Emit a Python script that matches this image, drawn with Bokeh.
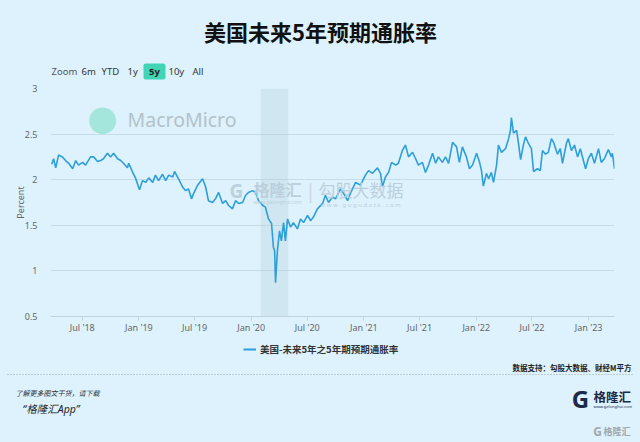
import pandas as pd
from bokeh.plotting import figure
from bokeh.layouts import column
from bokeh.models import (Range1d, FixedTicker, DatetimeTickFormatter, CustomJSTickFormatter,
                          BoxAnnotation, Label, Legend, LegendItem, Arrow, ColumnDataSource)
from bokeh.embed import file_html
from bokeh.resources import INLINE

# ---------------- data ----------------
title_text = "美国未来5年预期通胀率"
series_name = "美国-未来5年之5年期预期通胀率"
source_note = "数据支持：勾股大数据、财经M平方"
range_buttons = ["Zoom", "6m", "YTD", "1y", "5y", "10y", "All"]
selected_button = "5y"
y_axis_title = "Percent"

dates = [
    "2018-03-24", "2018-03-30", "2018-04-06", "2018-04-15", "2018-04-28", "2018-05-08", "2018-05-18",
    "2018-05-31", "2018-06-10", "2018-06-19", "2018-07-02", "2018-07-12", "2018-07-28", "2018-08-07",
    "2018-08-20", "2018-08-30", "2018-09-08", "2018-09-21", "2018-10-01", "2018-10-11", "2018-10-24",
    "2018-11-03", "2018-11-12", "2018-11-25", "2018-11-29", "2018-12-12", "2018-12-21", "2019-01-03",
    "2019-01-13", "2019-01-23", "2019-02-02", "2019-02-15", "2019-02-24", "2019-03-06", "2019-03-19",
    "2019-03-29", "2019-04-08", "2019-04-21", "2019-04-27", "2019-05-10", "2019-05-23", "2019-06-02",
    "2019-06-11", "2019-06-21", "2019-06-28", "2019-07-11", "2019-07-27", "2019-08-06", "2019-08-15",
    "2019-08-28", "2019-09-07", "2019-09-17", "2019-09-30", "2019-10-10", "2019-10-19", "2019-11-01",
    "2019-11-11", "2019-11-21", "2019-12-04", "2019-12-14", "2019-12-23", "2020-01-05", "2020-01-15",
    "2020-01-25", "2020-02-07", "2020-02-16", "2020-02-26", "2020-03-07", "2020-03-13", "2020-03-17",
    "2020-03-20", "2020-03-26", "2020-04-02", "2020-04-08", "2020-04-15", "2020-04-21", "2020-04-28",
    "2020-05-08", "2020-05-17", "2020-05-30", "2020-06-09", "2020-06-19", "2020-07-02", "2020-07-12",
    "2020-07-21", "2020-08-03", "2020-08-20", "2020-08-29", "2020-09-08", "2020-09-21", "2020-10-01",
    "2020-10-17", "2020-10-27", "2020-11-09", "2020-11-18", "2020-12-05", "2020-12-21", "2021-01-06",
    "2021-01-16", "2021-01-29", "2021-02-14", "2021-02-24", "2021-03-02", "2021-03-12", "2021-03-22",
    "2021-04-01", "2021-04-14", "2021-04-23", "2021-05-06", "2021-05-16", "2021-05-26", "2021-06-08",
    "2021-06-18", "2021-06-27", "2021-07-10", "2021-07-20", "2021-07-30", "2021-08-12", "2021-08-22",
    "2021-08-31", "2021-09-13", "2021-09-23", "2021-10-03", "2021-10-16", "2021-10-29", "2021-11-07",
    "2021-11-17", "2021-11-30", "2021-12-10", "2021-12-20", "2022-01-02", "2022-01-11", "2022-01-18",
    "2022-01-24", "2022-02-03", "2022-02-10", "2022-02-19", "2022-02-26", "2022-03-08", "2022-03-14",
    "2022-03-24", "2022-04-06", "2022-04-16", "2022-04-22", "2022-04-25", "2022-05-02", "2022-05-12",
    "2022-05-18", "2022-05-25", "2022-06-03", "2022-06-10", "2022-06-19", "2022-06-29", "2022-07-06",
    "2022-07-19", "2022-07-28", "2022-08-04", "2022-08-14", "2022-08-23", "2022-09-02", "2022-09-09",
    "2022-09-22", "2022-10-01", "2022-10-08", "2022-10-21", "2022-10-27", "2022-11-06", "2022-11-16",
    "2022-11-26", "2022-12-05", "2022-12-15", "2022-12-22", "2022-12-31", "2023-01-10", "2023-01-20",
    "2023-02-02", "2023-02-11", "2023-02-21", "2023-03-06", "2023-03-16", "2023-03-19", "2023-03-23",
    "2023-03-26",
]
values = [
    2.17, 2.23, 2.13, 2.27, 2.25, 2.21, 2.18,
    2.12, 2.21, 2.16, 2.19, 2.16, 2.25, 2.25,
    2.20, 2.21, 2.23, 2.29, 2.25, 2.29, 2.23,
    2.21, 2.18, 2.13, 2.18, 2.08, 2.02, 1.89,
    1.99, 1.97, 2.02, 1.97, 2.05, 1.99, 2.06,
    1.99, 2.05, 2.03, 2.09, 2.01, 1.92, 1.88,
    1.90, 1.79, 1.85, 1.94, 2.01, 1.92, 1.77,
    1.75, 1.79, 1.86, 1.74, 1.77, 1.72, 1.68,
    1.77, 1.74, 1.75, 1.83, 1.86, 1.88, 1.86,
    1.77, 1.72, 1.70, 1.57, 1.52, 1.26, 1.22,
    0.87, 1.22, 1.44, 1.33, 1.53, 1.33, 1.57,
    1.48, 1.53, 1.46, 1.57, 1.53, 1.61, 1.55,
    1.59, 1.68, 1.74, 1.83, 1.75, 1.81, 1.79,
    1.90, 1.85, 1.77, 1.85, 1.97, 1.94, 2.05,
    2.10, 2.07, 2.13, 2.07, 1.92, 2.03, 2.08,
    2.19, 2.16, 2.18, 2.32, 2.38, 2.25, 2.30,
    2.23, 2.16, 2.19, 2.08, 2.16, 2.29, 2.18,
    2.25, 2.19, 2.25, 2.18, 2.41, 2.36, 2.19,
    2.36, 2.25, 2.12, 2.16, 2.29, 2.20, 2.10,
    1.93, 2.07, 2.01, 2.08, 1.97, 2.16, 2.38,
    2.30, 2.34, 2.45, 2.54, 2.68, 2.51, 2.54,
    2.40, 2.22, 2.38, 2.47, 2.40, 2.34, 2.09,
    2.12, 2.10, 2.32, 2.28, 2.30, 2.45, 2.41,
    2.28, 2.34, 2.18, 2.40, 2.45, 2.32, 2.38,
    2.25, 2.34, 2.21, 2.12, 2.23, 2.29, 2.18,
    2.34, 2.19, 2.23, 2.33, 2.25, 2.29, 2.20,
    2.12,
]
x_tick_dates = ["2018-07-01", "2019-01-01", "2019-07-01", "2020-01-01", "2020-07-01",
                "2021-01-01", "2021-07-01", "2022-01-01", "2022-07-01", "2023-01-01"]
y_ticks = [0.5, 1, 1.5, 2, 2.5, 3]
recession_start, recession_end = "2020-02-01", "2020-04-30"
x_start, x_end = "2018-03-20", "2023-03-26"

# ---------------- style ----------------
BG = "#ddf2fc"
LINE = "#2d9fd9"
GRID = "#c6dce6"
CJK = "Noto Sans CJK SC"
LAT = "Noto Sans"
MIX = "'Noto Sans', 'Noto Sans CJK SC'"
W = 640
HEAD_H, MAIN_H, FOOT_H = 80, 262, 100


def ms(d):
    return pd.Timestamp(d).value // 10**6


def panel(h):
    f = figure(width=W, height=h, x_range=Range1d(0, W), y_range=Range1d(h, 0),
               x_axis_location=None, y_axis_location=None,
               output_backend="svg", toolbar_location=None,
               background_fill_color=BG, border_fill_color=BG, outline_line_color=None,
               min_border=0, frame_align=False)
    f.xgrid.visible = False
    f.ygrid.visible = False
    return f


def lab(fig, text, X, Y, size, color="#333333", font=CJK, style="normal", align="left", **kw):
    fig.add_layout(Label(x=X, y=Y, text=text, text_font=font, text_font_size=size,
                         text_color=color, text_font_style=style, text_align=align,
                         text_baseline="middle", **kw))


# ================= header =================
head = panel(HEAD_H)
lab(head, title_text, 320, 30, "22px", color="#111111", style="bold", align="center")
head.add_layout(BoxAnnotation(left=143, right=165, top=63, bottom=79, fill_color="#42d5b5",
                              fill_alpha=1, line_color=None, border_radius=2))
btn_x = [51, 81, 101, 127, 154, 168, 192]
for t, bx in zip(range_buttons, btn_x):
    if t == selected_button:
        lab(head, t, bx, 71, "9.5px", color="#222222", font=LAT, style="bold", align="center")
    else:
        lab(head, t, bx, 71, "9.5px", color="#555555" if t == "Zoom" else "#333333", font=LAT)

# ================= main chart =================
src = ColumnDataSource(dict(x=pd.to_datetime(dates), y=values))

p = figure(width=W, height=MAIN_H, x_axis_type="datetime",
           x_range=Range1d(pd.Timestamp(x_start), pd.Timestamp(x_end)),
           y_range=Range1d(0.5, 3),
           output_backend="svg", toolbar_location=None,
           background_fill_color=BG, border_fill_color=BG, outline_line_color=None,
           min_border_left=50, min_border_right=26, min_border_top=8, min_border_bottom=26,
           frame_align=False)

p.add_layout(BoxAnnotation(left=ms(recession_start), right=ms(recession_end),
                           fill_color="#b2ccd9", fill_alpha=0.3, line_color=None, level="underlay"))

r = p.line("x", "y", source=src, line_color=LINE, line_width=1.6)

p.xgrid.visible = False
p.ygrid.grid_line_color = GRID
p.ygrid.grid_line_width = 1

xa = p.xaxis[0]
xa.ticker = FixedTicker(ticks=[ms(d) for d in x_tick_dates])
xa.formatter = DatetimeTickFormatter(days="%b '%y", months="%b '%y", years="%b '%y")
xa.axis_line_color = "#bfd3de"
xa.major_tick_line_color = "#bfd3de"
xa.major_tick_out = 4
xa.major_tick_in = 0
xa.minor_tick_line_color = None
xa.major_label_standoff = 0
xa.major_label_text_font = LAT
xa.major_label_text_font_size = "9px"
xa.major_label_text_color = "#666666"

ya = p.yaxis[0]
ya.ticker = FixedTicker(ticks=y_ticks)
ya.formatter = CustomJSTickFormatter(code="return tick.toString()")
ya.axis_line_color = None
ya.major_tick_line_color = None
ya.minor_tick_line_color = None
ya.major_label_standoff = 7
ya.major_label_text_font = LAT
ya.major_label_text_font_size = "9px"
ya.major_label_text_color = "#666666"
ya.axis_label = y_axis_title
ya.axis_label_text_font = LAT
ya.axis_label_text_font_size = "9px"
ya.axis_label_text_font_style = "normal"
ya.axis_label_text_color = "#666666"
ya.axis_label_standoff = -5

# watermarks inside the frame (frame-relative screen units)
FL, FB = 50, 316


def wm(text, X, Y, size, color, font=CJK, style="normal", align="left"):
    p.add_layout(Label(x=X - FL, y=FB - Y, x_units="screen", y_units="screen", text=text,
                       text_font=font, text_font_size=size, text_color=color,
                       text_font_style=style, text_align=align, text_baseline="middle"))


wm("●", 102, 117, "35px", "#a4e6dc", font="DejaVu Sans", align="center")
wm("MacroMicro", 127, 119, "19.5px", "#b4c2c9", font=LAT)
wm("G", 236, 190, "19px", "#bccfdd", font=LAT, style="bold", align="center")
wm("格隆汇", 253, 188, "16px", "#bccfdd", style="bold")
wm("www.gelonghui.com", 253, 201, "5px", "#bccfdd", font=LAT)
wm("|", 310, 190, "20px", "#c8d8e2", font=LAT, align="center")
wm("勾股大数据", 318, 189, "17px", "#bccfdd")
wm("w w w . g o g u d a t a . c o m", 320, 204, "6px", "#bccfdd", font=LAT)

# ================= footer =================
foot = panel(FOOT_H)
OY = HEAD_H + MAIN_H  # reference y of the footer's top edge
legend_r = foot.line(x=[float("nan")], y=[float("nan")], line_color=LINE, line_width=2)
foot.add_layout(Legend(items=[LegendItem(label=series_name, renderers=[legend_r])],
                       location=(243, FOOT_H - (350 - OY) - 6), orientation="horizontal",
                       glyph_width=13, glyph_height=12, label_height=12, label_standoff=4,
                       padding=0, margin=0, border_line_color=None, background_fill_alpha=0,
                       label_text_font=CJK, label_text_font_size="9.5px",
                       label_text_font_style="bold", label_text_color="#333333"))
lab(foot, source_note, 631, 367 - OY, "7.5px", color="#222222", style="bold", align="right")
foot.add_layout(Arrow(x_start=7, y_start=374 - OY, x_end=632, y_end=374 - OY, start=None, end=None,
                      line_color="#9aa5ab", line_width=1, line_dash="1 2"))
lab(foot, "了解更多图文干货，请下载", 15, 392 - OY, "7px", color="#333333", style="italic")
lab(foot, "“格隆汇App”", 22, 408 - OY, "10.5px", color="#222222", font=MIX, style="italic")
lab(foot, "G", 580, 398 - OY, "24px", color="#1b2a4a", font=LAT, style="bold", align="center")
lab(foot, "格隆汇", 593, 396 - OY, "12.5px", color="#1b2a4a", style="bold")
lab(foot, "www.gelonghui.com", 593, 406 - OY, "4px", color="#1b2a4a", font=LAT)
lab(foot, "G", 597, 431 - OY, "12px", color="#a0a8ad", font=LAT, style="bold", align="center")
lab(foot, "格隆汇", 603, 431 - OY, "9px", color="#a0a8ad", style="bold")

page = column(head, p, foot, spacing=0, styles={"background-color": BG})
open("out.html", "w").write(file_html(page, INLINE))
